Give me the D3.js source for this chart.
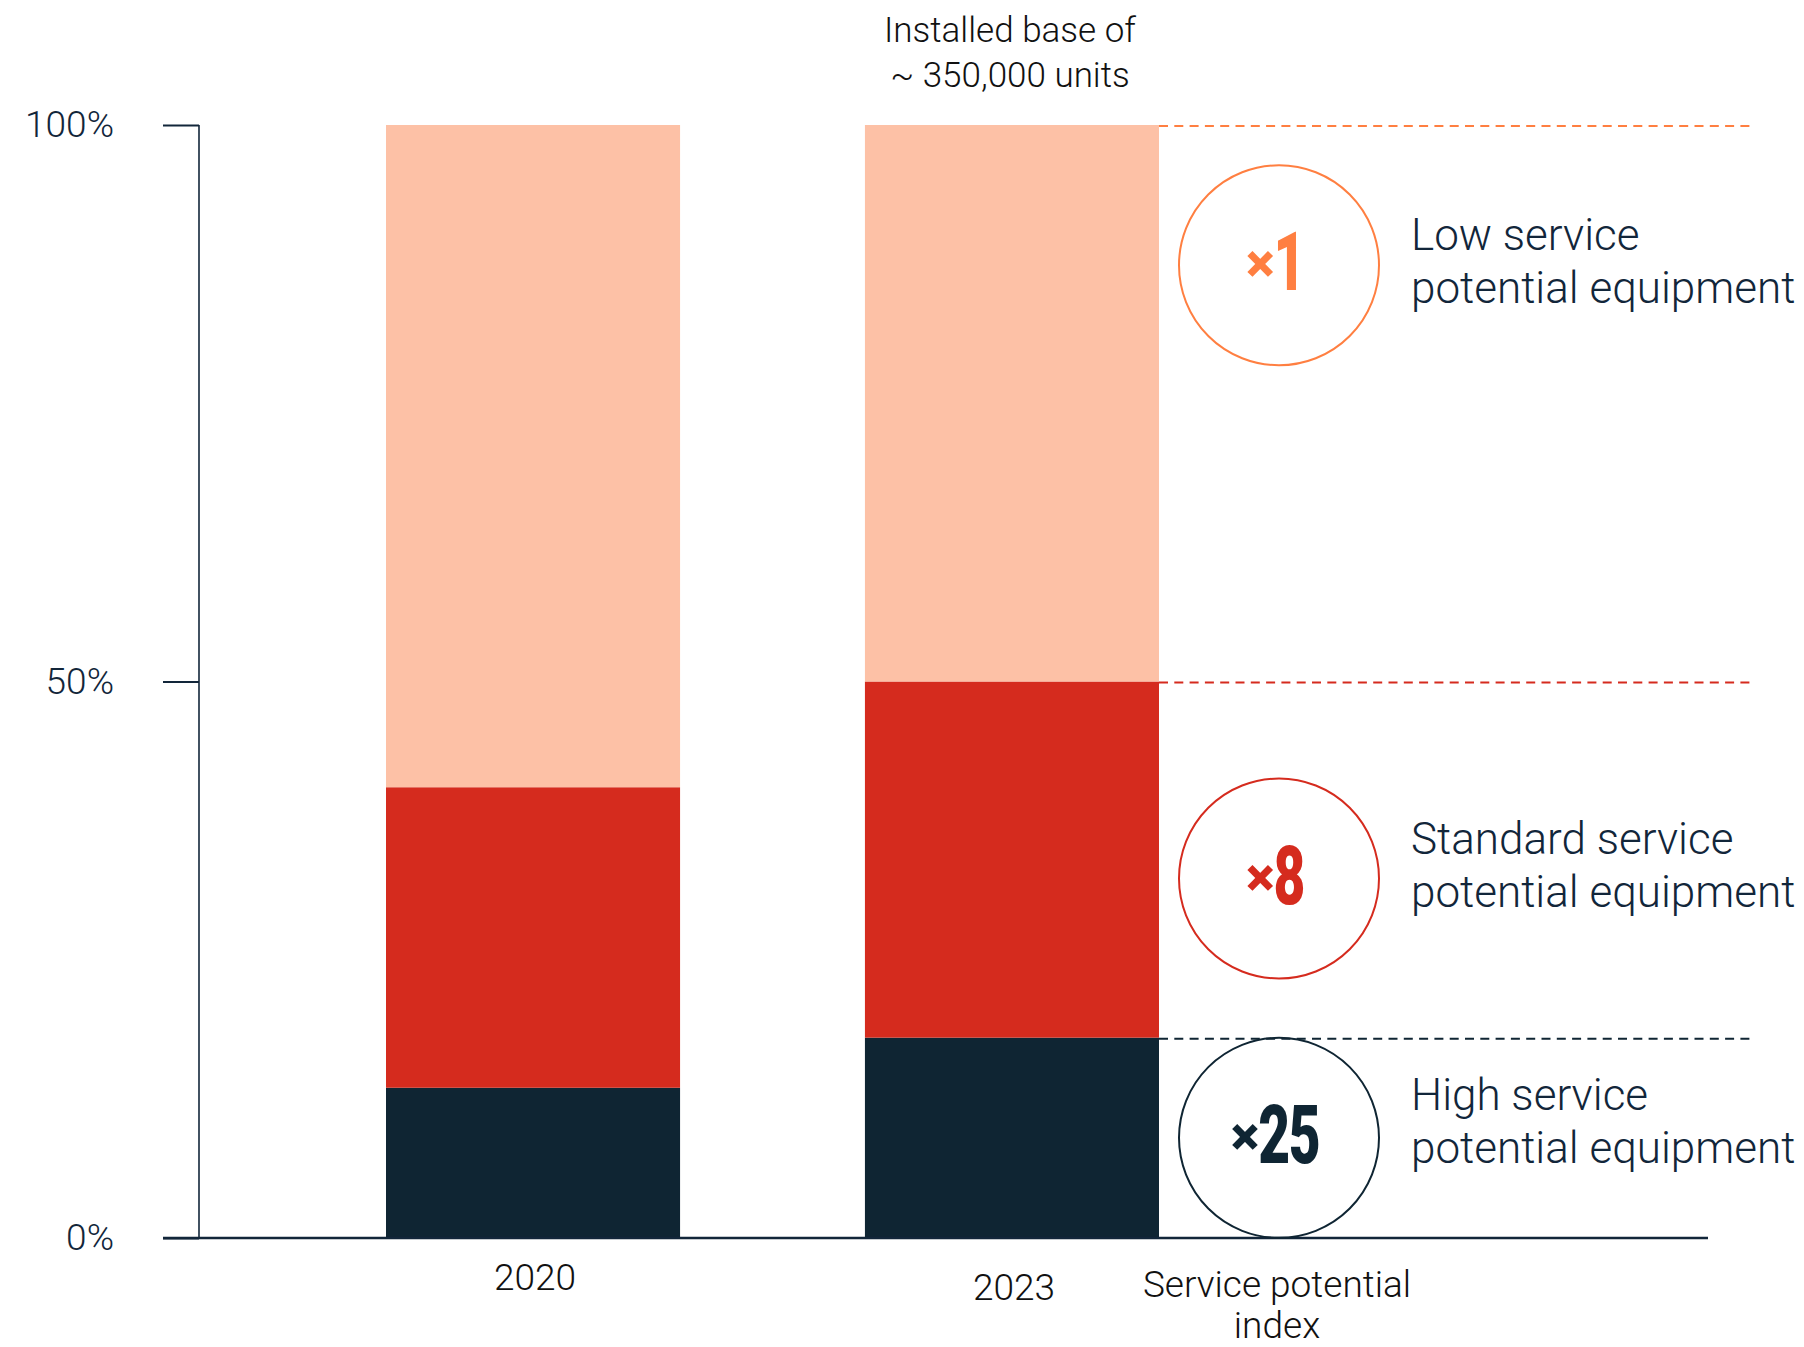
<!DOCTYPE html>
<html>
<head>
<meta charset="utf-8">
<script src="https://cdn.jsdelivr.net/npm/d3@7"></script>
<style>
  html, body { margin: 0; padding: 0; background: #ffffff; }
  svg { display: block; }
  text { font-family: Roboto, "Open Sans", sans-serif; }
</style>
</head>
<body>
<svg id="chart" width="1804" height="1347"></svg>
<script>
// ---- data ----
const years = ["2020", "2023"];
const seriesNames = ["High service potential equipment", "Standard service potential equipment", "Low service potential equipment"];
const highShare = [13.5, 18];
const standardShare = [27, 32];
const lowShare = [59.5, 50];
const yTicks = [0, 50, 100];
const yTickLabels = ["0%", "50%", "100%"];
const indexValues = ["25", "8", "1"];              // service potential multiplier per series
const indexCircleAt = [9, 32.3, 87.4];            // vertical position (in % units) of each index badge
const labelLines = [["High service", "potential equipment"], ["Standard service", "potential equipment"], ["Low service", "potential equipment"]];
const labelAt = [11.5, 34.5, 88.8];               // first-line baseline position (in % units)
const titleLines = ["Installed base of", "~ 350,000 units"];
const indexAxisLabel = ["Service potential", "index"];

// ---- styles ----
const colors = ["#0f2533", "#d52b1e", "#fdc1a6"];
const accent = ["#0f2533", "#d52b1e", "#ff7f41"];
const textDark = "#12263a";

const svg = d3.select("#chart");
const yScale = d3.scaleLinear().domain([0, 100]).range([1238, 125]);
const xScale = d3.scaleBand().domain(years).range([386, 1159]).paddingInner(0.386).paddingOuter(0);

// stacked data
const rows = years.map((y, i) => ({ year: y, high: highShare[i], standard: standardShare[i], low: lowShare[i] }));
const stack = d3.stack().keys(["high", "standard", "low"]);
const layers = stack(rows);

svg.append("g").selectAll("g").data(layers).join("g")
  .attr("fill", (d, i) => colors[i])
  .selectAll("rect").data(d => d).join("rect")
  .attr("x", d => xScale(d.data.year))
  .attr("width", xScale.bandwidth())
  .attr("y", d => yScale(d[1]))
  .attr("height", d => yScale(d[0]) - yScale(d[1]));

// y axis
const yAxis = d3.axisLeft(yScale).tickValues(yTicks).tickSize(36).tickPadding(49)
  .tickFormat((d, i) => yTickLabels[i]);
const gy = svg.append("g").attr("transform", "translate(199,0)").call(yAxis);
gy.select(".domain").attr("stroke", textDark).attr("stroke-width", 1.6).attr("d", `M0,${yScale(100)}V${yScale(0)}`);
gy.selectAll(".tick line").attr("stroke", textDark).attr("stroke-width", 1.8);
gy.selectAll(".tick text").attr("fill", textDark).attr("font-size", 37).attr("font-weight", 300)
  .attr("font-family", "Roboto, sans-serif").attr("dy", "0.32em");

// x baseline
const last = years[years.length - 1];
const x2end = xScale(last) + xScale.bandwidth();
svg.append("line").attr("x1", 163).attr("x2", 1708)
  .attr("y1", yScale(0)).attr("y2", yScale(0))
  .attr("stroke", textDark).attr("stroke-width", 2.6);

// category labels
const catOffsets = [52, 62];
svg.append("g").selectAll("text").data(years).join("text")
  .attr("x", d => xScale(d) + xScale.bandwidth() / 2 + 2)
  .attr("y", (d, i) => yScale(0) + catOffsets[i])
  .attr("text-anchor", "middle").attr("font-size", 37).attr("font-weight", 300).attr("fill", "#111")
  .text(d => d);

// title above 2023 bar
const titleX = xScale(last) + xScale.bandwidth() / 2 - 2;
svg.append("g").selectAll("text").data(titleLines).join("text")
  .attr("x", titleX).attr("y", (d, i) => 42 + i * 45)
  .attr("text-anchor", "middle").attr("font-size", 35).attr("font-weight", 300).attr("fill", "#111")
  .text(d => d);

// dashed reference lines from the 2023 stack boundaries
const last23 = layers.map(l => l[l.length - 1][1]);
svg.append("g").selectAll("line").data(last23).join("line")
  .attr("x1", x2end).attr("x2", 1752)
  .attr("y1", d => yScale(d) + 1).attr("y2", d => yScale(d) + 1)
  .attr("stroke", (d, i) => accent[i]).attr("stroke-width", 2)
  .attr("stroke-dasharray", "9,6.3");

// index badges
const cx = x2end + 120;
const badges = svg.append("g").selectAll("g").data(indexValues).join("g")
  .attr("transform", (d, i) => `translate(${cx},${yScale(indexCircleAt[i])})`);
badges.append("circle").attr("r", 100).attr("fill", "none")
  .attr("stroke", (d, i) => accent[i]).attr("stroke-width", 2);
badges.each(function (d, i) {
  const b = d3.select(this);
  const lab = b.append("g");
  const xs = lab.append("text").attr("x", 0).attr("y", 17)
    .attr("font-size", 54).attr("font-weight", 900).attr("fill", accent[i]).text("×");
  const xw = xs.node().getBBox().width;
  const ng = lab.append("g").attr("transform", `translate(${xw - 1},0) scale(0.68,1)`);
  ng.append("text").attr("x", 0).attr("y", 25)
    .attr("font-size", 81).attr("font-weight", 900).attr("fill", accent[i]).attr("letter-spacing", -2).text(d);
  const bb = lab.node().getBBox();
  lab.attr("transform", `translate(${-4 - (bb.x + bb.width / 2)},0)`);
});

// series labels
const lbl = svg.append("g").selectAll("text").data(labelLines).join("text")
  .attr("x", 1411).attr("y", (d, i) => yScale(labelAt[i]))
  .attr("font-size", 44).attr("font-weight", 300).attr("fill", textDark);
lbl.selectAll("tspan").data(d => d).join("tspan")
  .attr("x", 1411).attr("dy", (d, j) => j === 0 ? 0 : 53).text(d => d);

// service potential index axis label
svg.append("g").selectAll("text").data(indexAxisLabel).join("text")
  .attr("x", cx - 2).attr("y", (d, i) => yScale(0) + 59 + i * 41)
  .attr("text-anchor", "middle").attr("font-size", 37).attr("font-weight", 300).attr("fill", "#111")
  .text(d => d);
</script>
</body>
</html>
